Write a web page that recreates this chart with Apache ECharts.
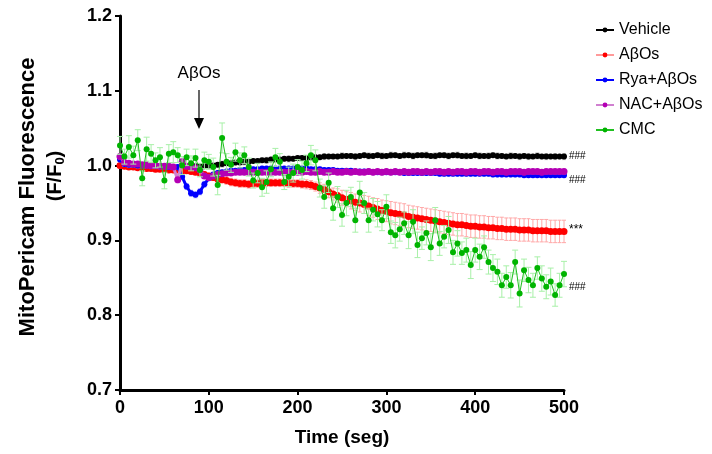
<!DOCTYPE html>
<html><head><meta charset="utf-8">
<script src="https://cdn.jsdelivr.net/npm/echarts@6/dist/echarts.min.js"></script>
<style>html,body{margin:0;padding:0;background:#fff}#c{width:712px;height:454px}</style>
</head><body><div id="c"></div>
<script>
// time points (seconds), every 5 s
const times = []; for (let t = 0; t <= 500; t += 5) times.push(t);
const seriesNames = ['Vehicle', 'AβOs', 'Rya+AβOs', 'NAC+AβOs', 'CMC'];

const vehicle = [
 1.000,1.001,1.000,0.999,0.999,0.998,0.998,0.998,0.997,0.997,0.998,0.998,0.997,0.997,0.998,0.998,0.998,0.999,0.999,0.999,1.000,
 1.000,1.001,1.002,1.003,1.003,1.004,1.004,1.005,1.005,1.006,1.006,1.007,1.007,1.008,1.008,1.008,1.009,1.009,1.009,1.010,
 1.010,1.010,1.011,1.011,1.011,1.012,1.012,1.012,1.012,1.013,1.013,1.013,1.012,1.013,1.014,1.013,1.013,1.014,1.013,1.013,
 1.014,1.014,1.013,1.014,1.014,1.013,1.014,1.014,1.014,1.013,1.013,1.014,1.014,1.013,1.014,1.014,1.013,1.013,1.013,1.014,
 1.013,1.013,1.013,1.014,1.013,1.013,1.012,1.013,1.013,1.012,1.013,1.012,1.012,1.013,1.012,1.012,1.012,1.012,1.012,1.012];
const vehicleSem = [
 0.003,0.003,0.004,0.003,0.003,0.003,0.004,0.003,0.003,0.003,0.003,0.004,0.003,0.003,0.003,0.003,0.004,0.003,0.003,0.003,0.003,
 0.003,0.003,0.004,0.003,0.003,0.003,0.003,0.004,0.003,0.003,0.003,0.003,0.004,0.003,0.003,0.003,0.003,0.004,0.003,0.003,
 0.003,0.003,0.004,0.003,0.003,0.004,0.003,0.003,0.003,0.004,0.003,0.003,0.004,0.003,0.003,0.004,0.003,0.003,0.004,0.003,
 0.004,0.003,0.003,0.004,0.003,0.004,0.003,0.003,0.004,0.003,0.004,0.003,0.003,0.004,0.003,0.004,0.003,0.004,0.003,0.003,
 0.004,0.003,0.004,0.003,0.004,0.003,0.003,0.004,0.003,0.004,0.003,0.004,0.003,0.004,0.003,0.004,0.003,0.004,0.003,0.004];

const abos = [
 1.000,0.999,0.998,0.998,0.997,0.997,0.996,0.996,0.995,0.995,0.995,0.994,0.994,0.994,0.993,0.993,0.992,0.991,0.990,0.988,0.986,
 0.984,0.982,0.981,0.980,0.978,0.977,0.976,0.976,0.975,0.976,0.976,0.977,0.977,0.977,0.977,0.977,0.977,0.976,0.976,0.976,
 0.975,0.975,0.974,0.972,0.970,0.968,0.965,0.962,0.960,0.957,0.955,0.953,0.951,0.950,0.948,0.946,0.944,0.942,0.940,0.939,
 0.937,0.936,0.935,0.934,0.932,0.931,0.930,0.929,0.928,0.927,0.926,0.925,0.924,0.923,0.922,0.921,0.921,0.920,0.919,0.919,
 0.918,0.918,0.917,0.917,0.916,0.916,0.915,0.915,0.915,0.914,0.914,0.914,0.913,0.913,0.913,0.913,0.912,0.912,0.912,0.912];
const abosSem = [
 0.003,0.003,0.003,0.003,0.003,0.003,0.003,0.003,0.003,0.003,0.003,0.003,0.003,0.003,0.003,0.003,0.003,0.003,0.003,0.004,0.004,
 0.004,0.004,0.004,0.005,0.005,0.005,0.005,0.005,0.005,0.005,0.005,0.005,0.005,0.005,0.005,0.005,0.005,0.005,0.005,0.005,
 0.005,0.006,0.006,0.006,0.007,0.007,0.008,0.008,0.009,0.010,0.010,0.011,0.011,0.012,0.012,0.013,0.013,0.014,0.014,0.014,
 0.015,0.015,0.015,0.015,0.015,0.015,0.015,0.015,0.015,0.015,0.015,0.015,0.015,0.015,0.015,0.015,0.015,0.015,0.015,0.015,
 0.015,0.015,0.015,0.015,0.015,0.015,0.015,0.015,0.015,0.015,0.015,0.015,0.015,0.015,0.015,0.015,0.015,0.015,0.015,0.015];

const rya = [
 1.008,1.002,1.001,1.001,1.000,1.000,1.000,0.999,0.999,0.999,0.999,0.998,0.998,0.998,0.985,0.972,0.963,0.961,0.965,0.975,0.983,
 0.988,0.990,0.991,0.992,0.993,0.993,0.994,0.994,0.995,0.995,0.995,0.996,0.996,0.996,0.996,0.996,0.996,0.996,0.996,0.996,
 0.996,0.996,0.995,0.995,0.995,0.994,0.994,0.994,0.993,0.993,0.993,0.993,0.992,0.992,0.992,0.992,0.991,0.991,0.991,0.991,
 0.991,0.991,0.991,0.990,0.990,0.990,0.990,0.990,0.990,0.990,0.990,0.989,0.989,0.989,0.989,0.989,0.989,0.989,0.989,0.989,
 0.989,0.989,0.989,0.988,0.988,0.988,0.988,0.988,0.988,0.988,0.987,0.987,0.987,0.987,0.987,0.987,0.987,0.987,0.987,0.987];
const ryaSem = [
 0.003,0.003,0.003,0.003,0.003,0.003,0.003,0.003,0.003,0.003,0.003,0.003,0.003,0.003,0.003,0.004,0.004,0.004,0.004,0.004,0.003,
 0.003,0.003,0.003,0.003,0.003,0.003,0.003,0.003,0.003,0.003,0.003,0.003,0.003,0.003,0.003,0.003,0.003,0.003,0.003,0.003,
 0.003,0.003,0.003,0.003,0.003,0.003,0.003,0.003,0.003,0.003,0.003,0.003,0.003,0.003,0.003,0.003,0.003,0.003,0.003,0.003,
 0.003,0.003,0.003,0.003,0.003,0.003,0.003,0.003,0.003,0.003,0.003,0.003,0.003,0.003,0.003,0.003,0.003,0.003,0.003,0.003,
 0.003,0.003,0.003,0.003,0.003,0.003,0.003,0.003,0.003,0.003,0.003,0.003,0.003,0.003,0.003,0.003,0.003,0.003,0.003,0.003];

const nac = [
 1.012,1.004,1.003,1.002,1.002,1.001,1.001,1.000,1.000,0.999,0.999,0.999,0.998,0.981,1.005,0.999,0.998,0.997,0.994,0.986,0.984,
 0.986,0.988,0.989,0.990,0.990,0.991,0.991,0.991,0.991,0.991,0.991,0.991,0.991,0.991,0.991,0.991,0.991,0.991,0.991,0.991,
 0.991,0.992,0.991,0.991,0.992,0.991,0.991,0.992,0.991,0.991,0.992,0.991,0.992,0.991,0.991,0.992,0.991,0.992,0.991,0.992,
 0.991,0.992,0.991,0.992,0.991,0.992,0.992,0.991,0.992,0.991,0.992,0.992,0.991,0.992,0.991,0.992,0.992,0.991,0.992,0.992,
 0.991,0.992,0.992,0.991,0.992,0.992,0.991,0.992,0.992,0.992,0.991,0.992,0.992,0.992,0.991,0.992,0.992,0.992,0.992,0.992];
const nacSem = [
 0.003,0.003,0.003,0.003,0.003,0.003,0.003,0.003,0.003,0.003,0.003,0.003,0.003,0.004,0.004,0.003,0.003,0.003,0.003,0.003,0.003,
 0.003,0.003,0.003,0.003,0.003,0.003,0.003,0.003,0.003,0.003,0.003,0.003,0.003,0.003,0.003,0.003,0.003,0.003,0.003,0.003,
 0.003,0.003,0.003,0.003,0.003,0.003,0.003,0.003,0.003,0.003,0.003,0.003,0.003,0.003,0.003,0.003,0.003,0.003,0.003,0.003,
 0.003,0.003,0.003,0.003,0.003,0.003,0.003,0.003,0.003,0.003,0.003,0.003,0.003,0.003,0.003,0.003,0.003,0.003,0.003,0.003,
 0.003,0.003,0.003,0.003,0.003,0.003,0.003,0.003,0.003,0.003,0.003,0.003,0.003,0.003,0.003,0.003,0.003,0.003,0.003,0.003];

const cmc = [
 1.027,1.012,1.025,1.014,1.034,0.983,1.022,1.016,1.007,1.011,0.980,1.016,1.018,1.014,1.000,1.011,1.003,1.010,0.994,1.007,1.005,
 0.998,0.974,1.037,1.005,1.001,1.018,1.007,1.014,0.998,0.980,0.990,0.971,0.978,0.995,1.011,1.005,0.978,0.985,0.990,0.998,
 0.994,1.003,1.014,1.007,0.970,0.958,0.977,0.943,0.958,0.934,0.950,0.958,0.927,0.964,0.950,0.927,0.941,0.935,0.927,0.945,
 0.911,0.907,0.915,0.923,0.907,0.925,0.894,0.903,0.910,0.891,0.927,0.896,0.905,0.914,0.884,0.896,0.883,0.887,0.867,0.887,
 0.878,0.891,0.871,0.863,0.858,0.840,0.851,0.840,0.871,0.829,0.860,0.847,0.840,0.863,0.849,0.838,0.845,0.827,0.840,0.855];
const cmcSem = [
 0.012,0.010,0.015,0.012,0.014,0.010,0.016,0.012,0.010,0.013,0.011,0.012,0.014,0.010,0.012,0.011,0.010,0.012,0.009,0.011,0.010,
 0.012,0.013,0.020,0.011,0.010,0.012,0.010,0.011,0.012,0.010,0.013,0.012,0.015,0.010,0.012,0.011,0.010,0.013,0.012,0.010,
 0.012,0.011,0.013,0.014,0.012,0.015,0.013,0.016,0.014,0.015,0.017,0.013,0.016,0.015,0.014,0.016,0.015,0.017,0.014,0.016,
 0.015,0.017,0.016,0.015,0.018,0.016,0.017,0.015,0.016,0.018,0.017,0.016,0.015,0.018,0.016,0.017,0.015,0.016,0.018,0.016,
 0.017,0.015,0.016,0.018,0.017,0.016,0.015,0.017,0.016,0.018,0.015,0.017,0.016,0.015,0.017,0.016,0.018,0.015,0.016,0.017];

const FONT = '"Liberation Sans", Arial, sans-serif';
const groups = [
 {name: seriesNames[0], mean: vehicle, sem: vehicleSem, color: '#000000', line: '#000000', err: '#c0c0c0', size: 6, cap: 2, lw: 3},
 {name: seriesNames[1], mean: abos, sem: abosSem, color: '#ff0000', line: '#ff9a9a', err: '#ffa8a8', size: 7, cap: 2, lw: 3},
 {name: seriesNames[2], mean: rya, sem: ryaSem, color: '#0000ff', line: '#0000ff', err: '#a8a8ff', size: 6, cap: 2, lw: 3},
 {name: seriesNames[3], mean: nac, sem: nacSem, color: '#b400b4', line: '#d080d0', err: '#e0a0e0', size: 7, cap: 2, lw: 3},
 {name: seriesNames[4], mean: cmc, sem: cmcSem, color: '#00b400', line: '#20c020', err: '#a8f0a8', size: 6, cap: 3, lw: 1}
];

const series = [];
groups.forEach((g, i) => {
 const errData = times.map((t, k) => [t, g.mean[k], g.sem[k]]);
 series.push({
  type: 'custom', name: g.name + ' SEM', z: 2 + i * 2, silent: true,
  encode: {x: 0, y: 1},
  data: errData,
  renderItem: (params, api) => {
   const t = api.value(0), m = api.value(1), s = api.value(2);
   const top = api.coord([t, m + s]), bot = api.coord([t, m - s]);
   const st = {stroke: g.err, lineWidth: 1};
   return {type: 'group', children: [
    {type: 'line', shape: {x1: top[0], y1: top[1], x2: bot[0], y2: bot[1]}, style: st},
    {type: 'line', shape: {x1: top[0] - g.cap, y1: top[1], x2: top[0] + g.cap, y2: top[1]}, style: st},
    {type: 'line', shape: {x1: bot[0] - g.cap, y1: bot[1], x2: bot[0] + g.cap, y2: bot[1]}, style: st}
   ]};
  }
 });
 series.push({
  type: 'line', name: g.name, z: 3 + i * 2,
  data: times.map((t, k) => [t, g.mean[k]]),
  symbol: 'circle', symbolSize: g.size, showSymbol: true,
  itemStyle: {color: g.color},
  lineStyle: {color: g.line, width: g.lw},
  emphasis: {disabled: true}, animation: false
 });
});

const chart = echarts.init(document.getElementById('c'));
chart.setOption({
 animation: false,
 backgroundColor: '#fff',
 grid: {left: 120, right: 148, top: 16, bottom: 64},
 xAxis: {
  type: 'value', min: 0, max: 500, interval: 100,
  name: 'Time (seg)', nameLocation: 'middle', nameGap: 38,
  nameTextStyle: {fontFamily: FONT, fontWeight: 'bold', fontSize: 19, color: '#000'},
  axisLine: {lineStyle: {color: '#000', width: 3}},
  axisTick: {length: 5, lineStyle: {color: '#000', width: 2}},
  axisLabel: {fontFamily: FONT, fontWeight: 'bold', fontSize: 18, color: '#000', margin: 9},
  splitLine: {show: false}
 },
 yAxis: {
  type: 'value', min: 0.7, max: 1.2, interval: 0.1,
  axisLine: {show: true, lineStyle: {color: '#000', width: 3}},
  axisTick: {show: true, length: 5, lineStyle: {color: '#000', width: 2}},
  axisLabel: {fontFamily: FONT, fontWeight: 'bold', fontSize: 18, color: '#000', margin: 8,
   formatter: v => v.toFixed(1)},
  splitLine: {show: false}
 },
 legend: {
  orient: 'vertical', left: 590, top: 17, itemWidth: 18, itemHeight: 6, itemGap: 9,
  data: seriesNames,
  textStyle: {fontFamily: FONT, fontSize: 16, color: '#000'}
 },
 graphic: [
  {type: 'text', x: 28, y: 197, rotation: Math.PI / 2,
   style: {text: 'MitoPericam Fluorescence', font: 'bold 22px "Liberation Sans", Arial', fill: '#000', textAlign: 'center', textVerticalAlign: 'middle'}},
  {type: 'text', x: 55, y: 176, rotation: Math.PI / 2,
   style: {text: '{a|(F/F}{s|0}{a|)}', textAlign: 'center', textVerticalAlign: 'middle',
    rich: {a: {font: 'bold 20px "Liberation Sans", Arial', fill: '#000'},
           s: {font: 'bold 13px "Liberation Sans", Arial', fill: '#000', padding: [10, 0, 0, 0]}}}},
  {type: 'text', x: 199, y: 73,
   style: {text: 'AβOs', font: '17px "Liberation Sans", Arial', fill: '#000', textAlign: 'center', textVerticalAlign: 'middle'}},
  {type: 'line', shape: {x1: 199, y1: 90, x2: 199, y2: 120}, style: {stroke: '#000', lineWidth: 1.2}},
  {type: 'polygon', shape: {points: [[194, 118], [204, 118], [199, 129]]}, style: {fill: '#000'}},
  {type: 'text', x: 569, y: 156, style: {text: '###', font: '10px "Liberation Sans", Arial', fill: '#000', textVerticalAlign: 'middle'}},
  {type: 'text', x: 569, y: 180, style: {text: '###', font: '10px "Liberation Sans", Arial', fill: '#000', textVerticalAlign: 'middle'}},
  {type: 'text', x: 569, y: 230, style: {text: '***', font: '12px "Liberation Sans", Arial', fill: '#000', textVerticalAlign: 'middle'}},
  {type: 'text', x: 569, y: 287, style: {text: '###', font: '10px "Liberation Sans", Arial', fill: '#000', textVerticalAlign: 'middle'}}
 ],
 series: series
});
</script></body></html>
